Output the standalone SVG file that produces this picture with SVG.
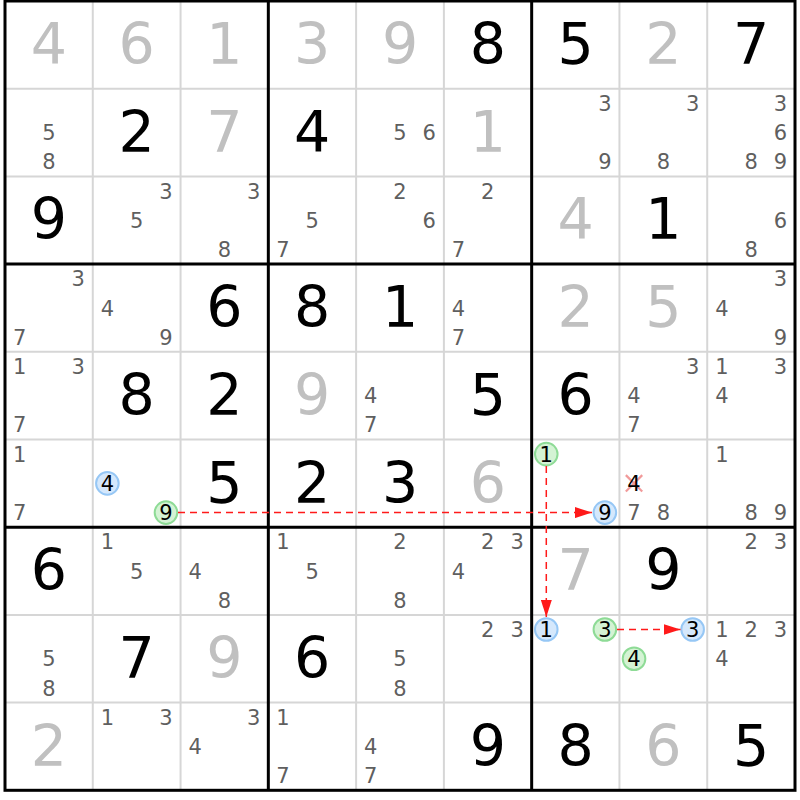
<svg xmlns="http://www.w3.org/2000/svg" width="800" height="800" viewBox="0 0 800 800">
<style>
text{font-family:"DejaVu Sans","Liberation Sans",sans-serif;text-anchor:middle}
.g{font-size:57px;fill:#c0c0c0}
.s{font-size:57px;fill:#000}
.c{font-size:21px;fill:#5f5f5f}
.h{font-size:21px;fill:#000}
.thin{stroke:#d6d6d6;stroke-width:2}
.thick{stroke:#000;stroke-width:3}
.cb{fill:#d5e8fc;stroke:#96c7f5;stroke-width:2}
.cg{fill:#d4f3d4;stroke:#8edb96;stroke-width:2}
.ln{stroke:#ff1a1a;stroke-width:1.5;stroke-dasharray:7 5;fill:none}
.x{stroke:#f19a9a;stroke-width:2.2}
</style>
<defs>
<marker id="ah" markerUnits="userSpaceOnUse" markerWidth="17" markerHeight="11" refX="17" refY="5.5" orient="auto">
<path d="M0,0 L17,5.5 L0,11 z" fill="#ff1a1a"/>
</marker>
</defs>
<rect x="0" y="0" width="800" height="800" fill="#fff"/>
<g id="grid">
<line class="thin" x1="92.78" y1="1" x2="92.78" y2="790.3"/>
<line class="thin" x1="180.56" y1="1" x2="180.56" y2="790.3"/>
<line class="thin" x1="356.11" y1="1" x2="356.11" y2="790.3"/>
<line class="thin" x1="443.89" y1="1" x2="443.89" y2="790.3"/>
<line class="thin" x1="619.44" y1="1" x2="619.44" y2="790.3"/>
<line class="thin" x1="707.22" y1="1" x2="707.22" y2="790.3"/>
<line class="thin" x1="5" y1="88.7" x2="795" y2="88.7"/>
<line class="thin" x1="5" y1="176.4" x2="795" y2="176.4"/>
<line class="thin" x1="5" y1="351.8" x2="795" y2="351.8"/>
<line class="thin" x1="5" y1="439.5" x2="795" y2="439.5"/>
<line class="thin" x1="5" y1="614.9" x2="795" y2="614.9"/>
<line class="thin" x1="5" y1="702.6" x2="795" y2="702.6"/>
<line class="thick" x1="268.33" y1="1" x2="268.33" y2="790.3"/>
<line class="thick" x1="531.67" y1="1" x2="531.67" y2="790.3"/>
<line class="thick" x1="5" y1="264.1" x2="795" y2="264.1"/>
<line class="thick" x1="5" y1="527.2" x2="795" y2="527.2"/>
<rect class="thick" x="5" y="1" width="790" height="789.3" fill="none"/>
</g>
<!-- row 0 -->
<g id="r0c0" transform="translate(5,1)"><text class="g" x="43.9" y="63">4</text></g>
<g id="r0c1" transform="translate(92.78,1)"><text class="g" x="43.9" y="63">6</text></g>
<g id="r0c2" transform="translate(180.56,1)"><text class="g" x="43.9" y="63">1</text></g>
<g id="r0c3" transform="translate(268.33,1)"><text class="g" x="43.9" y="63">3</text></g>
<g id="r0c4" transform="translate(356.11,1)"><text class="g" x="43.9" y="63">9</text></g>
<g id="r0c5" transform="translate(443.89,1)"><text class="s" x="43.9" y="63">8</text></g>
<g id="r0c6" transform="translate(531.67,1)"><text class="s" x="43.9" y="63">5</text></g>
<g id="r0c7" transform="translate(619.44,1)"><text class="g" x="43.9" y="63">2</text></g>
<g id="r0c8" transform="translate(707.22,1)"><text class="s" x="43.9" y="63">7</text></g>
<!-- row 1 -->
<g id="r1c0" transform="translate(5,88.7)"><text class="c" x="43.9" y="51.5">5</text><text class="c" x="43.9" y="80.7">8</text></g>
<g id="r1c1" transform="translate(92.78,88.7)"><text class="s" x="43.9" y="63">2</text></g>
<g id="r1c2" transform="translate(180.56,88.7)"><text class="g" x="43.9" y="63">7</text></g>
<g id="r1c3" transform="translate(268.33,88.7)"><text class="s" x="43.9" y="63">4</text></g>
<g id="r1c4" transform="translate(356.11,88.7)"><text class="c" x="43.9" y="51.5">5</text><text class="c" x="73.2" y="51.5">6</text></g>
<g id="r1c5" transform="translate(443.89,88.7)"><text class="g" x="43.9" y="63">1</text></g>
<g id="r1c6" transform="translate(531.67,88.7)"><text class="c" x="73.2" y="22.2">3</text><text class="c" x="73.2" y="80.7">9</text></g>
<g id="r1c7" transform="translate(619.44,88.7)"><text class="c" x="73.2" y="22.2">3</text><text class="c" x="43.9" y="80.7">8</text></g>
<g id="r1c8" transform="translate(707.22,88.7)"><text class="c" x="73.2" y="22.2">3</text><text class="c" x="73.2" y="51.5">6</text><text class="c" x="43.9" y="80.7">8</text><text class="c" x="73.2" y="80.7">9</text></g>
<!-- row 2 -->
<g id="r2c0" transform="translate(5,176.4)"><text class="s" x="43.9" y="63">9</text></g>
<g id="r2c1" transform="translate(92.78,176.4)"><text class="c" x="73.2" y="22.2">3</text><text class="c" x="43.9" y="51.5">5</text></g>
<g id="r2c2" transform="translate(180.56,176.4)"><text class="c" x="73.2" y="22.2">3</text><text class="c" x="43.9" y="80.7">8</text></g>
<g id="r2c3" transform="translate(268.33,176.4)"><text class="c" x="43.9" y="51.5">5</text><text class="c" x="14.6" y="80.7">7</text></g>
<g id="r2c4" transform="translate(356.11,176.4)"><text class="c" x="43.9" y="22.2">2</text><text class="c" x="73.2" y="51.5">6</text></g>
<g id="r2c5" transform="translate(443.89,176.4)"><text class="c" x="43.9" y="22.2">2</text><text class="c" x="14.6" y="80.7">7</text></g>
<g id="r2c6" transform="translate(531.67,176.4)"><text class="g" x="43.9" y="63">4</text></g>
<g id="r2c7" transform="translate(619.44,176.4)"><text class="s" x="43.9" y="63">1</text></g>
<g id="r2c8" transform="translate(707.22,176.4)"><text class="c" x="73.2" y="51.5">6</text><text class="c" x="43.9" y="80.7">8</text></g>
<!-- row 3 -->
<g id="r3c0" transform="translate(5,264.1)"><text class="c" x="73.2" y="22.2">3</text><text class="c" x="14.6" y="80.7">7</text></g>
<g id="r3c1" transform="translate(92.78,264.1)"><text class="c" x="14.6" y="51.5">4</text><text class="c" x="73.2" y="80.7">9</text></g>
<g id="r3c2" transform="translate(180.56,264.1)"><text class="s" x="43.9" y="63">6</text></g>
<g id="r3c3" transform="translate(268.33,264.1)"><text class="s" x="43.9" y="63">8</text></g>
<g id="r3c4" transform="translate(356.11,264.1)"><text class="s" x="43.9" y="63">1</text></g>
<g id="r3c5" transform="translate(443.89,264.1)"><text class="c" x="14.6" y="51.5">4</text><text class="c" x="14.6" y="80.7">7</text></g>
<g id="r3c6" transform="translate(531.67,264.1)"><text class="g" x="43.9" y="63">2</text></g>
<g id="r3c7" transform="translate(619.44,264.1)"><text class="g" x="43.9" y="63">5</text></g>
<g id="r3c8" transform="translate(707.22,264.1)"><text class="c" x="73.2" y="22.2">3</text><text class="c" x="14.6" y="51.5">4</text><text class="c" x="73.2" y="80.7">9</text></g>
<!-- row 4 -->
<g id="r4c0" transform="translate(5,351.8)"><text class="c" x="14.6" y="22.2">1</text><text class="c" x="73.2" y="22.2">3</text><text class="c" x="14.6" y="80.7">7</text></g>
<g id="r4c1" transform="translate(92.78,351.8)"><text class="s" x="43.9" y="63">8</text></g>
<g id="r4c2" transform="translate(180.56,351.8)"><text class="s" x="43.9" y="63">2</text></g>
<g id="r4c3" transform="translate(268.33,351.8)"><text class="g" x="43.9" y="63">9</text></g>
<g id="r4c4" transform="translate(356.11,351.8)"><text class="c" x="14.6" y="51.5">4</text><text class="c" x="14.6" y="80.7">7</text></g>
<g id="r4c5" transform="translate(443.89,351.8)"><text class="s" x="43.9" y="63">5</text></g>
<g id="r4c6" transform="translate(531.67,351.8)"><text class="s" x="43.9" y="63">6</text></g>
<g id="r4c7" transform="translate(619.44,351.8)"><text class="c" x="73.2" y="22.2">3</text><text class="c" x="14.6" y="51.5">4</text><text class="c" x="14.6" y="80.7">7</text></g>
<g id="r4c8" transform="translate(707.22,351.8)"><text class="c" x="14.6" y="22.2">1</text><text class="c" x="73.2" y="22.2">3</text><text class="c" x="14.6" y="51.5">4</text></g>
<!-- row 5 -->
<g id="r5c0" transform="translate(5,439.5)"><text class="c" x="14.6" y="22.2">1</text><text class="c" x="14.6" y="80.7">7</text></g>
<g id="r5c1" transform="translate(92.78,439.5)"><circle class="cb" cx="14.6" cy="43.85" r="11.3"/><text class="h" x="14.6" y="51.5">4</text><circle class="cg" cx="73.2" cy="73.1" r="11.3"/><text class="h" x="73.2" y="80.7">9</text></g>
<g id="r5c2" transform="translate(180.56,439.5)"><text class="s" x="43.9" y="63">5</text></g>
<g id="r5c3" transform="translate(268.33,439.5)"><text class="s" x="43.9" y="63">2</text></g>
<g id="r5c4" transform="translate(356.11,439.5)"><text class="s" x="43.9" y="63">3</text></g>
<g id="r5c5" transform="translate(443.89,439.5)"><text class="g" x="43.9" y="63">6</text></g>
<g id="r5c6" transform="translate(531.67,439.5)"><circle class="cg" cx="14.6" cy="14.6" r="11.3"/><text class="h" x="14.6" y="22.2">1</text><circle class="cb" cx="73.2" cy="73.1" r="11.3"/><text class="h" x="73.2" y="80.7">9</text></g>
<g id="r5c7" transform="translate(619.44,439.5)"><line class="x" x1="6.4" y1="35.6" x2="22.8" y2="52"/><line class="x" x1="22.8" y1="35.6" x2="6.4" y2="52"/><text class="h" x="14.6" y="51.5">4</text><text class="c" x="14.6" y="80.7">7</text><text class="c" x="43.9" y="80.7">8</text></g>
<g id="r5c8" transform="translate(707.22,439.5)"><text class="c" x="14.6" y="22.2">1</text><text class="c" x="43.9" y="80.7">8</text><text class="c" x="73.2" y="80.7">9</text></g>
<!-- row 6 -->
<g id="r6c0" transform="translate(5,527.2)"><text class="s" x="43.9" y="63">6</text></g>
<g id="r6c1" transform="translate(92.78,527.2)"><text class="c" x="14.6" y="22.2">1</text><text class="c" x="43.9" y="51.5">5</text></g>
<g id="r6c2" transform="translate(180.56,527.2)"><text class="c" x="14.6" y="51.5">4</text><text class="c" x="43.9" y="80.7">8</text></g>
<g id="r6c3" transform="translate(268.33,527.2)"><text class="c" x="14.6" y="22.2">1</text><text class="c" x="43.9" y="51.5">5</text></g>
<g id="r6c4" transform="translate(356.11,527.2)"><text class="c" x="43.9" y="22.2">2</text><text class="c" x="43.9" y="80.7">8</text></g>
<g id="r6c5" transform="translate(443.89,527.2)"><text class="c" x="43.9" y="22.2">2</text><text class="c" x="73.2" y="22.2">3</text><text class="c" x="14.6" y="51.5">4</text></g>
<g id="r6c6" transform="translate(531.67,527.2)"><text class="g" x="43.9" y="63">7</text></g>
<g id="r6c7" transform="translate(619.44,527.2)"><text class="s" x="43.9" y="63">9</text></g>
<g id="r6c8" transform="translate(707.22,527.2)"><text class="c" x="43.9" y="22.2">2</text><text class="c" x="73.2" y="22.2">3</text></g>
<!-- row 7 -->
<g id="r7c0" transform="translate(5,614.9)"><text class="c" x="43.9" y="51.5">5</text><text class="c" x="43.9" y="80.7">8</text></g>
<g id="r7c1" transform="translate(92.78,614.9)"><text class="s" x="43.9" y="63">7</text></g>
<g id="r7c2" transform="translate(180.56,614.9)"><text class="g" x="43.9" y="63">9</text></g>
<g id="r7c3" transform="translate(268.33,614.9)"><text class="s" x="43.9" y="63">6</text></g>
<g id="r7c4" transform="translate(356.11,614.9)"><text class="c" x="43.9" y="51.5">5</text><text class="c" x="43.9" y="80.7">8</text></g>
<g id="r7c5" transform="translate(443.89,614.9)"><text class="c" x="43.9" y="22.2">2</text><text class="c" x="73.2" y="22.2">3</text></g>
<g id="r7c6" transform="translate(531.67,614.9)"><circle class="cb" cx="14.6" cy="14.6" r="11.3"/><text class="h" x="14.6" y="22.2">1</text><circle class="cg" cx="73.2" cy="14.6" r="11.3"/><text class="h" x="73.2" y="22.2">3</text></g>
<g id="r7c7" transform="translate(619.44,614.9)"><circle class="cb" cx="73.2" cy="14.6" r="11.3"/><text class="h" x="73.2" y="22.2">3</text><circle class="cg" cx="14.6" cy="43.85" r="11.3"/><text class="h" x="14.6" y="51.5">4</text></g>
<g id="r7c8" transform="translate(707.22,614.9)"><text class="c" x="14.6" y="22.2">1</text><text class="c" x="43.9" y="22.2">2</text><text class="c" x="73.2" y="22.2">3</text><text class="c" x="14.6" y="51.5">4</text></g>
<!-- row 8 -->
<g id="r8c0" transform="translate(5,702.6)"><text class="g" x="43.9" y="63">2</text></g>
<g id="r8c1" transform="translate(92.78,702.6)"><text class="c" x="14.6" y="22.2">1</text><text class="c" x="73.2" y="22.2">3</text></g>
<g id="r8c2" transform="translate(180.56,702.6)"><text class="c" x="73.2" y="22.2">3</text><text class="c" x="14.6" y="51.5">4</text></g>
<g id="r8c3" transform="translate(268.33,702.6)"><text class="c" x="14.6" y="22.2">1</text><text class="c" x="14.6" y="80.7">7</text></g>
<g id="r8c4" transform="translate(356.11,702.6)"><text class="c" x="14.6" y="51.5">4</text><text class="c" x="14.6" y="80.7">7</text></g>
<g id="r8c5" transform="translate(443.89,702.6)"><text class="s" x="43.9" y="63">9</text></g>
<g id="r8c6" transform="translate(531.67,702.6)"><text class="s" x="43.9" y="63">8</text></g>
<g id="r8c7" transform="translate(619.44,702.6)"><text class="g" x="43.9" y="63">6</text></g>
<g id="r8c8" transform="translate(707.22,702.6)"><text class="s" x="43.9" y="63">5</text></g>
<g id="connectors">
<line class="ln" x1="178" y1="512.6" x2="592" y2="512.6" marker-end="url(#ah)"/>
<line class="ln" x1="546.3" y1="466" x2="546.3" y2="617" marker-end="url(#ah)"/>
<line class="ln" x1="617" y1="629.5" x2="680.5" y2="629.5" marker-end="url(#ah)"/>
</g>
</svg>
